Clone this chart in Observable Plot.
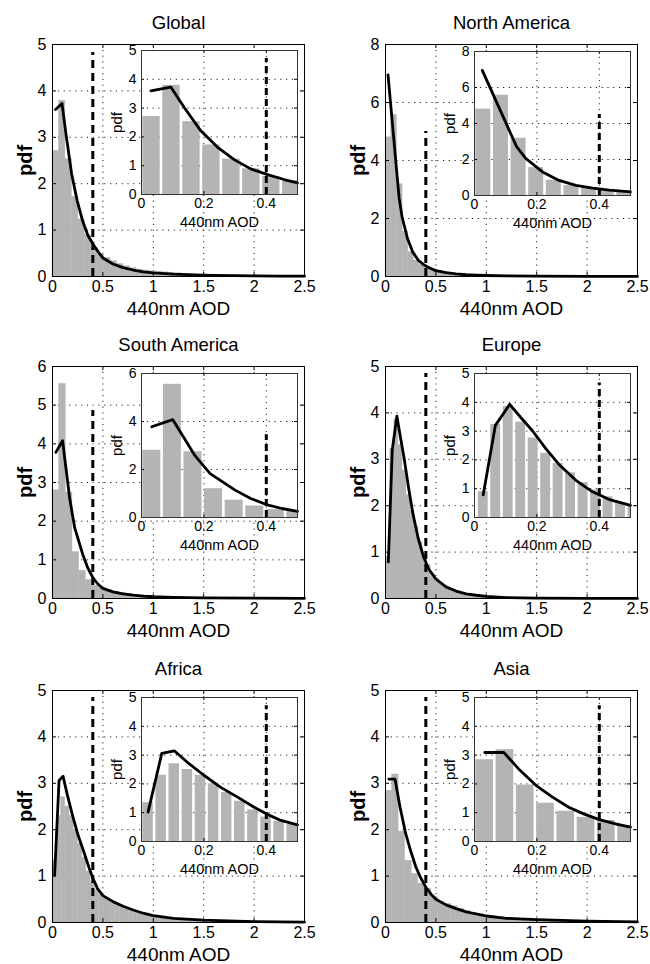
<!DOCTYPE html>
<html>
<head>
<meta charset="utf-8">
<script src="https://cdn.jsdelivr.net/npm/d3@7"></script>
<script src="https://cdn.jsdelivr.net/npm/@observablehq/plot@0.6"></script>
<style>
  html, body { margin: 0; padding: 0; background: #fff; }
  #root { position: relative; width: 650px; height: 964px; overflow: hidden; background: #fff; }
  #root > svg { position: absolute; }
</style>
</head>
<body>
<div id="root"></div>
<script>
// ---------------- DATA ----------------
const regionNames = ["Global", "North America", "South America", "Europe", "Africa", "Asia"];
const xLabel = "440nm AOD";
const yLabel = "pdf";
const thresholdAOD = 0.4;

// histogram bins: start and width per region
const binStarts = [0, 0, 0, 0.008, 0, 0];
const binWidths = [0.064, 0.0565, 0.066, 0.04, 0.042, 0.065];

// histogram bar heights (pdf)
const globalBars = [2.71, 3.79, 2.53, 1.72, 1.23, 0.89, 0.62, 0.48, 0.4, 0.33, 0.27, 0.22, 0.18, 0.15, 0.13, 0.11, 0.1, 0.09, 0.08, 0.07, 0.06, 0.05, 0.04, 0.03, 0.025, 0.02, 0.02, 0.015, 0.015, 0.01, 0.01];
const northAmericaBars = [4.8, 5.57, 3.18, 1.55, 0.85, 0.55, 0.4, 0.32, 0.26, 0.2, 0.16, 0.12, 0.1, 0.08, 0.06, 0.05, 0.04, 0.03, 0.02, 0.015, 0.01];
const southAmericaBars = [2.8, 5.55, 2.74, 1.2, 0.72, 0.48, 0.33, 0.26, 0.22, 0.18, 0.15, 0.12, 0.1, 0.08, 0.065, 0.05, 0.04, 0.035, 0.03, 0.02, 0.015, 0.01];
const europeBars = [0.9, 3.23, 3.86, 3.31, 2.76, 2.23, 1.88, 1.55, 1.21, 0.95, 0.72, 0.52, 0.42, 0.33, 0.27, 0.22, 0.18, 0.14, 0.11, 0.09, 0.07, 0.055, 0.045, 0.035, 0.03, 0.02, 0.015, 0.01];
const africaBars = [1.35, 2.3, 2.7, 2.5, 2.3, 2.0, 1.7, 1.4, 1.1, 0.85, 0.7, 0.6, 0.55, 0.48, 0.42, 0.37, 0.32, 0.28, 0.25, 0.22, 0.19, 0.17, 0.15, 0.13, 0.12, 0.1, 0.09, 0.08, 0.07, 0.06, 0.055, 0.05, 0.045, 0.04, 0.035, 0.03, 0.03, 0.025, 0.02, 0.02, 0.015, 0.015, 0.01, 0.01];
const asiaBars = [2.84, 3.19, 1.96, 1.33, 1.05, 0.84, 0.73, 0.55, 0.45, 0.4, 0.35, 0.3, 0.25, 0.21, 0.18, 0.15, 0.13, 0.11, 0.1, 0.09, 0.08, 0.07, 0.065, 0.06, 0.055, 0.05, 0.045, 0.04, 0.035, 0.03, 0.03, 0.025, 0.025, 0.02, 0.02];

// fitted pdf curves
const globalCurveX = [0.03, 0.094, 0.137, 0.19, 0.244, 0.297, 0.35, 0.404, 0.457, 0.5, 0.6, 0.7, 0.8, 0.9, 1.0, 1.2, 1.4, 1.6, 1.8, 2.0, 2.25, 2.5];
const globalCurveY = [3.6, 3.73, 3.02, 2.21, 1.64, 1.21, 0.89, 0.69, 0.52, 0.4, 0.27, 0.19, 0.14, 0.1, 0.08, 0.05, 0.035, 0.025, 0.018, 0.013, 0.009, 0.006];
const northAmericaCurveX = [0.025, 0.135, 0.164, 0.218, 0.271, 0.325, 0.379, 0.432, 0.5, 0.6, 0.7, 0.8, 0.9, 1.0, 1.2, 1.5, 2.0, 2.5];
const northAmericaCurveY = [6.95, 2.71, 2.06, 1.31, 0.84, 0.56, 0.41, 0.3, 0.2, 0.13, 0.09, 0.06, 0.045, 0.035, 0.02, 0.01, 0.005, 0.003];
const southAmericaCurveX = [0.033, 0.1, 0.17, 0.22, 0.3, 0.35, 0.4, 0.45, 0.5, 0.6, 0.7, 0.8, 0.9, 1.0, 1.2, 1.5, 2.0, 2.5];
const southAmericaCurveY = [3.78, 4.08, 2.6, 1.83, 1.14, 0.79, 0.54, 0.375, 0.26, 0.17, 0.12, 0.085, 0.06, 0.045, 0.03, 0.015, 0.008, 0.004];
const europeCurveX = [0.028, 0.067, 0.113, 0.147, 0.185, 0.228, 0.27, 0.324, 0.377, 0.43, 0.5, 0.6, 0.7, 0.8, 0.9, 1.0, 1.2, 1.5, 2.0, 2.5];
const europeCurveY = [0.79, 3.2, 3.93, 3.49, 3.02, 2.4, 1.85, 1.3, 0.9, 0.63, 0.42, 0.25, 0.16, 0.1, 0.07, 0.045, 0.02, 0.008, 0.003, 0.001];
const africaCurveX = [0.021, 0.065, 0.105, 0.147, 0.2, 0.254, 0.308, 0.361, 0.4, 0.447, 0.5, 0.6, 0.7, 0.8, 0.9, 1.0, 1.2, 1.5, 2.0, 2.5];
const africaCurveY = [1.02, 3.06, 3.15, 2.75, 2.3, 1.88, 1.54, 1.19, 0.96, 0.73, 0.58, 0.45, 0.35, 0.27, 0.2, 0.15, 0.09, 0.05, 0.02, 0.01];
const asiaCurveX = [0.033, 0.094, 0.145, 0.2, 0.25, 0.302, 0.35, 0.4, 0.452, 0.5, 0.6, 0.7, 0.8, 1.0, 1.2, 1.5, 2.0, 2.5];
const asiaCurveY = [3.09, 3.09, 2.48, 1.92, 1.54, 1.19, 0.96, 0.76, 0.61, 0.5, 0.38, 0.3, 0.23, 0.14, 0.09, 0.06, 0.03, 0.015];

// axes
const mainXTicks = [0, 0.5, 1, 1.5, 2, 2.5];
const insetXTicks = [0, 0.2, 0.4];
const mainYMax = [5, 8, 6, 5, 5, 5];
const mainYTicks = [[0, 1, 2, 3, 4, 5], [0, 2, 4, 6, 8], [0, 1, 2, 3, 4, 5, 6], [0, 1, 2, 3, 4, 5], [0, 1, 2, 3, 4, 5], [0, 1, 2, 3, 4, 5]];
const insetYTicks = [[0, 1, 2, 3, 4, 5], [0, 2, 4, 6, 8], [0, 2, 4, 6], [0, 1, 2, 3, 4, 5], [0, 1, 2, 3, 4, 5], [0, 1, 2, 3, 4, 5]];
// top of the dashed threshold line (pdf units)
const mainDashTop = [4.83, 5.0, 4.86, 4.85, 4.85, 4.85];
const insetDashTop = [4.72, 4.5, 3.45, 4.67, 4.71, 4.71];

const allBars = [globalBars, northAmericaBars, southAmericaBars, europeBars, africaBars, asiaBars];
const allCurveX = [globalCurveX, northAmericaCurveX, southAmericaCurveX, europeCurveX, africaCurveX, asiaCurveX];
const allCurveY = [globalCurveY, northAmericaCurveY, southAmericaCurveY, europeCurveY, africaCurveY, asiaCurveY];

// ---------------- LAYOUT / STYLE ----------------
const FONT = "'Liberation Sans', Arial, Helvetica, sans-serif";
const barColor = "#b4b4b4";
const frameLefts = [52, 385];
const frameTops = [44, 366, 690];
const FW = 252, FH = 232;
const insetLefts = [141, 474];
const insetTops = [[50, 51], [373, 373], [697, 697]];
const IW = 156, IH = 144;
const gridStyle = {stroke: "#222", strokeWidth: 1, strokeDasharray: "1.2,4.6"};

const root = document.getElementById("root");

function place(svg, left, top) {
  svg.style.position = "absolute";
  svg.style.left = left + "px";
  svg.style.top = top + "px";
  root.appendChild(svg);
}

function inwardTicks(xt, yt, xmax, ymax, fw, fh, len) {
  const xi = xt.filter(t => t > 0 && t < xmax);
  const yi = yt.filter(t => t > 0 && t < ymax);
  const s = {stroke: "#000", strokeWidth: 1};
  return [
    Plot.ruleX(xi, {...s, insetBottom: fh - len}),
    Plot.ruleX(xi, {...s, insetTop: fh - len}),
    Plot.ruleY(yi, {...s, insetRight: fw - len}),
    Plot.ruleY(yi, {...s, insetLeft: fw - len})
  ];
}

for (let i = 0; i < 6; i++) {
  const col = i % 2, row = Math.floor(i / 2);
  const start = binStarts[i], w = binWidths[i];
  const bins = allBars[i].map((h, k) => ({x1: start + k * w, x2: start + (k + 1) * w, y: h}));
  const curve = allCurveX[i].map((x, k) => ({x, y: allCurveY[i][k]}));
  const ymax = mainYMax[i];
  const yt = mainYTicks[i];

  // ---- main panel ----
  const ml = 52, mr = 11, mt = 44, mb = 44;
  const main = Plot.plot({
    width: ml + FW + mr, height: mt + FH + mb,
    marginLeft: ml, marginRight: mr, marginTop: mt, marginBottom: mb,
    style: {fontFamily: FONT, fontSize: "16px", color: "#000", background: "transparent", overflow: "visible"},
    x: {domain: [0, 2.5], ticks: mainXTicks, tickSize: 0, tickPadding: 4, tickFormat: d => String(d), label: null},
    y: {domain: [0, ymax], ticks: yt, tickSize: 0, tickPadding: 6, tickFormat: d => String(d), label: null},
    marks: [
      Plot.ruleX(mainXTicks.filter(t => t > 0 && t < 2.5), gridStyle),
      Plot.ruleY(yt.filter(t => t > 0 && t < ymax), gridStyle),
      Plot.rect(bins, {x1: "x1", x2: "x2", y1: 0, y2: "y", fill: barColor, stroke: barColor, strokeWidth: 0.4}),
      Plot.line(curve, {x: "x", y: "y", stroke: "#000", strokeWidth: 2.8}),
      Plot.ruleX([thresholdAOD], {y1: 0, y2: mainDashTop[i], stroke: "#000", strokeWidth: 3, strokeDasharray: "8,5"}),
      ...inwardTicks(mainXTicks, yt, 2.5, ymax, FW, FH, 4),
      Plot.frame({stroke: "#000", strokeWidth: 1}),
      Plot.text([xLabel], {frameAnchor: "bottom", dy: 32, text: d => d, fontSize: 19, textAnchor: "middle", lineAnchor: "middle", fill: "#000"}),
      Plot.text([yLabel], {frameAnchor: "left", dx: -27, rotate: -90, text: d => d, fontSize: 20, fontWeight: "bold", textAnchor: "middle", lineAnchor: "middle", fill: "#000"}),
      Plot.text([regionNames[i]], {frameAnchor: "top", dy: -21, text: d => d, fontSize: 18.5, textAnchor: "middle", lineAnchor: "middle", fill: "#000"})
    ]
  });
  place(main, frameLefts[col] - ml, frameTops[row] - mt);

  // ---- inset panel ----
  const il = 42, ir = 6, it = 6, ib = 40;
  const iyt = insetYTicks[i];
  const iymax = iyt[iyt.length - 1];
  const inset = Plot.plot({
    width: il + IW + ir, height: it + IH + ib,
    marginLeft: il, marginRight: ir, marginTop: it, marginBottom: ib,
    style: {fontFamily: FONT, fontSize: "14px", color: "#000", background: "transparent", overflow: "visible"},
    x: {domain: [0, 0.5], ticks: insetXTicks, tickSize: 0, tickPadding: 4, tickFormat: d => String(d), label: null},
    y: {domain: [0, iymax], ticks: iyt, tickSize: 0, tickPadding: 5, tickFormat: d => String(d), label: null},
    marks: [
      Plot.frame({fill: "#fff"}),
      Plot.ruleX(insetXTicks.filter(t => t > 0 && t < 0.5), gridStyle),
      Plot.ruleY(iyt.filter(t => t > 0 && t < iymax), gridStyle),
      Plot.rect(bins.filter(b => b.x1 < 0.5), {x1: "x1", x2: "x2", y1: 0, y2: "y", fill: barColor, insetLeft: 1.3, insetRight: 1.3, clip: true}),
      Plot.line(curve.filter(p => p.x <= 0.5), {x: "x", y: "y", stroke: "#000", strokeWidth: 2.8}),
      Plot.ruleX([thresholdAOD], {y1: 0, y2: insetDashTop[i], stroke: "#000", strokeWidth: 3, strokeDasharray: "7,4"}),
      ...inwardTicks(insetXTicks, iyt, 0.5, iymax, IW, IH, 3),
      Plot.frame({stroke: "#333", strokeWidth: 1}),
      Plot.text([xLabel], {frameAnchor: "bottom", dy: 28, text: d => d, fontSize: 14.5, textAnchor: "middle", lineAnchor: "middle", fill: "#000"}),
      Plot.text([yLabel], {frameAnchor: "left", dx: -24, rotate: -90, text: d => d, fontSize: 15, textAnchor: "middle", lineAnchor: "middle", fill: "#000"})
    ]
  });
  place(inset, insetLefts[col] - il, insetTops[row][col] - it);
}
</script>
</body>
</html>
